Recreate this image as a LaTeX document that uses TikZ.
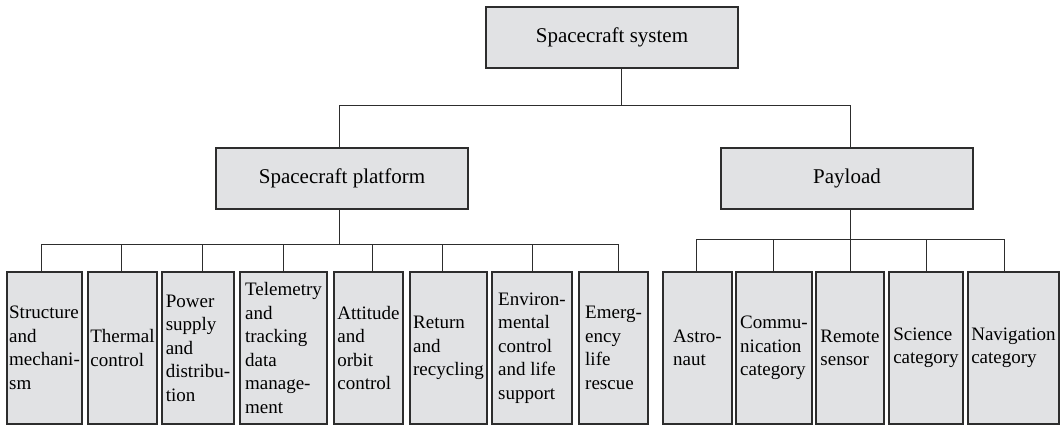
\documentclass[tikz,border=0pt]{standalone}
\usepackage{fontspec}
\setmainfont{Liberation Serif}
\usepackage{tikz}
\usetikzlibrary{positioning}
\definecolor{boxfill}{RGB}{225,226,228}
\definecolor{boxline}{RGB}{45,45,45}

\begin{document}
\begin{tikzpicture}[x=1pt,y=-1pt,
    box/.style={draw=boxline,fill=boxfill,line width=1.2pt,inner sep=0pt},
    headbox/.style={box,minimum width=252pt,minimum height=61pt,font=\fontsize{21}{25}\selectfont},
    leafbox/.style={box,minimum height=152pt,align=left,font=\fontsize{19}{23.5}\selectfont},
    wire/.style={draw=boxline,line width=0.9pt}]
      \useasboundingbox (0,0) rectangle (1062,426);

      \node[headbox] (sys) at (612,37.5) {Spacecraft system};
      \node[headbox] (plat) at (342,178.5) {Spacecraft platform};
      \node[headbox] (pay) at (847,178.5) {Payload};

      \coordinate (sysbus) at (621,105);
      \coordinate (platbus) at (339,244);
      \coordinate (paybus) at (850,239);

      % platform subsystems
      \foreach \n/\x/\w/\t in {
          struct/44.5/75/{Structure\\and\\mechani-\\sm},
          therm/122.5/69/{Thermal\\control},
          power/198/72/{Power\\supply\\and\\distribu-\\tion},
          telem/283.5/87/{Telemetry\\and\\tracking\\data\\manage-\\ment},
          att/368.5/69/{Attitude\\and\\orbit\\control},
          ret/448.5/77/{Return\\and\\recycling},
          env/532/80/{Environ-\\mental\\control\\and life\\support},
          emerg/613.5/69/{Emerg-\\ency\\life\\rescue}}
        \node[leafbox,minimum width=\w pt] (\n) at (\x,348) {\t};

      % payload categories
      \foreach \n/\x/\w/\t in {
          astro/697.5/69/{Astro-\\naut},
          comm/774/76/{Commu-\\nication\\category},
          remote/850/68/{Remote\\sensor},
          sci/926/74/{Science\\category},
          nav/1013.5/91/{Navigation\\category}}
        \node[leafbox,minimum width=\w pt] (\n) at (\x,348) {\t};

      \path[wire] ([xshift=9pt]sys.south) -- (sysbus)
            (sysbus) -| ([xshift=-3pt]plat.north)
            (sysbus) -| ([xshift=3pt]pay.north)
            ([xshift=-3pt]plat.south) -- (platbus)
            ([xshift=3pt]pay.south) -- (paybus);

      \foreach \n/\dx in {struct/-3,therm/-1,power/4,telem/0,att/4,ret/-6,env/0,emerg/5}
        \path[wire] (platbus) -| ([xshift=\dx pt]\n.north);
      \foreach \n/\dx in {astro/-1,comm/-1,remote/0,sci/0,nav/-9}
        \path[wire] (paybus) -| ([xshift=\dx pt]\n.north);
\end{tikzpicture}
\end{document}
